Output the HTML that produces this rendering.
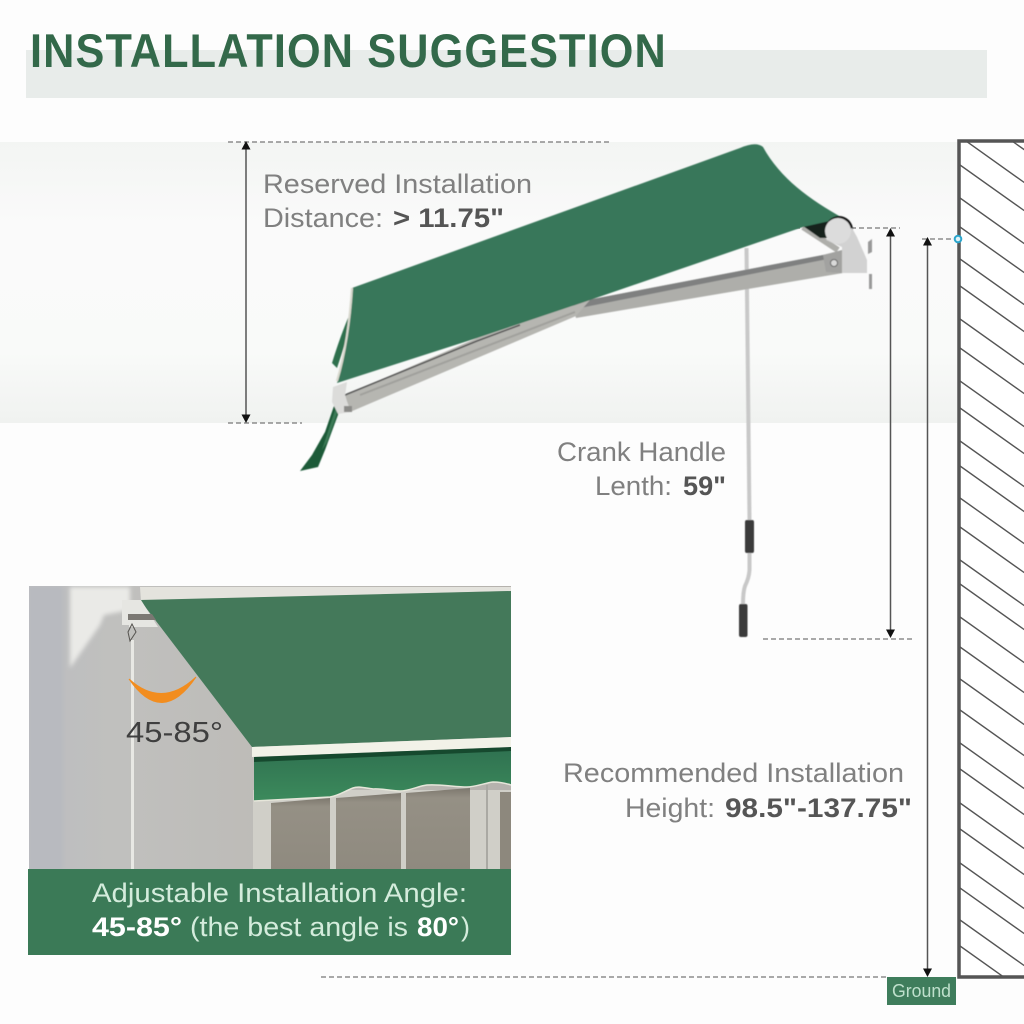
<!DOCTYPE html>
<html><head><meta charset="utf-8"><style>
html,body{margin:0;padding:0;background:#fff}
svg{display:block}
text{font-family:"Liberation Sans",sans-serif}
</style></head><body>
<svg width="1024" height="1024" viewBox="0 0 1024 1024" xmlns="http://www.w3.org/2000/svg">
<defs>
<linearGradient id="band" x1="0" y1="0" x2="0" y2="1">
<stop offset="0" stop-color="#f3f5f3"/><stop offset=".3" stop-color="#fafafa"/><stop offset=".75" stop-color="#f9faf9"/><stop offset="1" stop-color="#f0f2f0"/>
</linearGradient>
<linearGradient id="val" x1="0" y1="0" x2="0" y2="1">
<stop offset="0" stop-color="#2f7150"/><stop offset="1" stop-color="#3c8a5c"/>
</linearGradient>
<linearGradient id="conc" x1="0" y1="0" x2="1" y2="0">
<stop offset="0" stop-color="#bcbdc0"/><stop offset=".18" stop-color="#c0c0be"/><stop offset=".5" stop-color="#bdbbb7"/><stop offset="1" stop-color="#b5b2ad"/>
</linearGradient>
<linearGradient id="pane" x1="0" y1="0" x2="0" y2="1">
<stop offset="0" stop-color="#7d786e"/><stop offset=".12" stop-color="#959085"/><stop offset="1" stop-color="#8f8a7f"/>
</linearGradient>
<clipPath id="wallclip"><rect x="960" y="142" width="64" height="834"/></clipPath>
<clipPath id="photo"><rect x="29" y="586" width="482" height="284"/></clipPath>
<filter id="soft" x="-5%" y="-5%" width="110%" height="110%"><feGaussianBlur stdDeviation="0.6"/></filter>
<filter id="softer" x="-20%" y="-20%" width="140%" height="140%"><feGaussianBlur stdDeviation="2"/></filter>
</defs>
<rect width="1024" height="1024" fill="#fdfdfd"/>
<rect x="0" y="142" width="957" height="281" fill="url(#band)"/>

<!-- Title -->
<rect x="26" y="50" width="961" height="48" fill="#e8ecea"/>
<g transform="translate(30 67) scale(.92 1)">
<text x="0" y="0" font-size="47" font-weight="bold" fill="#33694a" textLength="691" lengthAdjust="spacing">INSTALLATION SUGGESTION</text>
</g>

<!-- Wall -->
<rect x="960" y="142" width="64" height="834" fill="#fff"/>
<g clip-path="url(#wallclip)" stroke="#555" stroke-width="1.400" fill="none">
<path d="M966 141l80 57M1012 141l40 28.400M960 165l90 63.900M960 198l90 63.900M960 227l90 63.900M960 259l90 63.900M960 286l90 63.900M960 319l90 63.900M960 348l90 63.900M960 381l90 63.900M960 408l90 63.900M960 441l90 63.900M960 466l90 63.900M960 498l90 63.900M960 527l90 63.900M960 560l90 63.900M960 584l90 63.900M960 617l90 63.900M960 647l90 63.900M960 679l90 63.900M960 710l90 63.900M960 743l90 63.900M960 769l90 63.900M960 803l90 63.900M960 829l90 63.900M960 863l90 63.900M960 888l90 63.900M960 920l90 63.900M960 946l90 63.900"/>
</g>
<path d="M1024 141H959V977H1024" fill="none" stroke="#555" stroke-width="3.500"/>

<!-- Dashed guides -->
<g stroke="#777" stroke-width="1.300" stroke-dasharray="5 3" fill="none">
<path d="M228 142H612M228 423H302M763 639H912M321 977H886M922 239H955M795 228H900"/>
</g>
<!-- Dimension arrows -->
<g stroke="#555" stroke-width="1.500" fill="none">
<path d="M246 148V417M890.500 234V632M927.500 243V971"/>
</g>
<g fill="#111">
<path d="M246 141l-4.500 8.500h9zM246 423l-4.500-8.500h9zM890.500 228l-4.500 8.500h9zM890.500 638l-4.500-8.500h9zM927.500 237l-4.500 8.500h9zM927.500 977l-4.500-8.500h9z"/>
</g>
<circle cx="958" cy="239" r="3.300" fill="#dff3f8" stroke="#2aa5cc" stroke-width="2"/>

<!-- Ground -->
<rect x="887" y="977" width="69" height="28" fill="#3f7d5c"/>
<text x="892" y="997" font-size="18" fill="#bfe0cc" textLength="59" lengthAdjust="spacingAndGlyphs">Ground</text>

<!-- Awning -->
<g filter="url(#soft)">
<path d="M348 318C341 335 336 350 332 363L337 368C343 350 348 335 350 318Z" fill="#2f6f4d"/>
<path d="M335 403L342 404L325 450L318 467L300 471L312 455L325 432Z" fill="#1e5a38"/>
<path d="M336 407L340 405L327 442L322 450Z" fill="#3a7a57"/>
<!-- rod -->
<path d="M746.500 248L749.500 520" stroke="#c8c8c8" stroke-width="4"/>
<!-- second arm -->
<path d="M572 303L823 255L843 251V273L576 318Z" fill="#aeaeaa"/>
<path d="M572 303L823 255L843 251V256L575 309Z" fill="#7f8080"/>
<!-- main arm -->
<path d="M345 395L477 338L590 300L576 316L350 412Z" fill="#b6b6b1"/>
<path d="M345 395L477 341L520 325" stroke="#555" stroke-width="1.500" fill="none"/>
<path d="M360 395L575 312" stroke="#a0a09c" stroke-width="2" fill="none"/>
<path d="M333 387L347 382L345 396L351 412L338 414L332 402Z" fill="#dcdcda"/>
<rect x="344" y="406" width="8" height="6" fill="#8b8b88"/>
<!-- diagonal support -->
<path d="M803 227L838 250" stroke="#aeaeaa" stroke-width="6"/>
<path d="M803 226L828 218L828 238L820 238Z" fill="#16241c"/>
<!-- canopy -->
<path d="M352 288L740 148Q756 141 763 147C780 178 810 200 843 218L825 222L803 227L590 300L477 338L337 383C345 355 350 320 352 288Z" fill="#39775a"/>
<path d="M352 288C350 320 345 355 337 381" stroke="#d9d9cf" stroke-width="2.200" fill="none"/>
<!-- roller and bracket -->
<circle cx="839" cy="230" r="14" fill="#111"/>
<path d="M852 228L857 237L867 260V273H842V247L826 240Z" fill="#d2d2d2"/>
<circle cx="838" cy="231" r="13" fill="#dcdcdc"/>
<path d="M823 255L842 250V273L826 272Z" fill="#a2a2a0"/>
<circle cx="834" cy="263" r="3.500" fill="#d9d9d9" stroke="#666"/>
<path d="M868 242L872 239V252L868 254ZM869 274L872 274V289H869Z" fill="#999"/>
<!-- crank handle -->
<path d="M749.500 553V570Q749 578 745 586Q743 592 743 604" stroke="#c8c8c8" stroke-width="4" fill="none"/>
<rect x="745" y="520" width="9" height="33" rx="2" fill="#3a3b3b"/>
<rect x="739" y="604" width="8.500" height="33" rx="2" fill="#3a3b3b"/>
</g>

<!-- Inset photo -->
<g clip-path="url(#photo)">
<rect x="29" y="586" width="482" height="284" fill="url(#conc)"/>
<path d="M70 587H130V610L104 615L100 625L70 668Z" fill="#eaeae7" filter="url(#softer)"/>
<rect x="29" y="586" width="34" height="284" fill="#b8babf" filter="url(#softer)"/>
<!-- window -->
<rect x="253" y="790" width="258" height="80" fill="#d0cfc8"/>
<path d="M271 803L330 798V870H271Z" fill="url(#pane)"/>
<path d="M336 798L401 793V870H336Z" fill="url(#pane)"/>
<path d="M406 793L470 788V870H406Z" fill="url(#pane)"/>
<rect x="500" y="792" width="11" height="78" fill="#8d887d"/>
<rect x="486" y="785" width="2" height="85" fill="#aaa9a3"/>
<!-- beam & canopy -->
<path d="M140 587H511V591L141 601Z" fill="#e4e3dd"/>
<path d="M140 600L511 591V737L252 747Z" fill="#44795a"/>
<path d="M252 747L511 737V747L252 757Z" fill="#f2f2e8"/>
<path d="M254 758L511 748V785C505 783 498 782 493 782C485 783 475 787 467 787C455 787 440 784 427 785C418 786 410 791 400 791C390 791 380 788 373 789C365 788 358 786 353 788C345 791 338 796 330 797L254 801Z" fill="url(#val)"/>
<path d="M254 757L511 747V751L254 762Z" fill="#16492e"/>
<path d="M254 801L330 797C338 796 345 791 353 788C358 786 365 788 373 789C380 788 390 791 400 791C410 791 418 786 427 785C440 784 455 787 467 787C475 787 485 783 493 782C498 782 505 783 511 785" fill="none" stroke="#e6e6da" stroke-width="1.500"/>
<!-- bracket and rod -->
<path d="M122 600H141L158 627H129V625H122Z" fill="#e6e6e2"/>
<path d="M128 614H152L156 620H128Z" fill="#7b7873"/>
<path d="M132 624L136 632L130 641L128 632Z" fill="none" stroke="#55534f" stroke-width="1"/>
<path d="M132.500 640V870" stroke="#e8e8e4" stroke-width="3"/>
<!-- orange arc -->
<path d="M129 679Q162 727 196 677Q162 709 129 679Z" fill="#f28d1f" stroke="#f28d1f" stroke-width="1"/>
</g>
<text x="126" y="742" font-size="29" fill="#3f3f3f" textLength="97" lengthAdjust="spacingAndGlyphs">45-85°</text>

<!-- Caption -->
<rect x="28" y="869" width="483" height="86" fill="#3b7a57"/>
<g font-size="27" fill="#d4ecdc">
<text x="92" y="902" textLength="375" lengthAdjust="spacingAndGlyphs">Adjustable Installation Angle:</text>
<text x="92" y="936" font-weight="bold" fill="#fff" textLength="90" lengthAdjust="spacingAndGlyphs">45-85°</text>
<text x="190" y="936" textLength="218" lengthAdjust="spacingAndGlyphs">(the best angle is</text>
<text x="417" y="936" font-weight="bold" fill="#fff" textLength="42" lengthAdjust="spacingAndGlyphs">80°</text>
<text x="461" y="936">)</text>
</g>

<!-- Labels -->
<g font-size="27" fill="#808080">
<text x="263" y="193" textLength="269" lengthAdjust="spacingAndGlyphs">Reserved Installation</text>
<text x="263" y="227" textLength="120" lengthAdjust="spacingAndGlyphs">Distance:</text>
<text x="393" y="227" font-weight="bold" fill="#555" textLength="111" lengthAdjust="spacingAndGlyphs">&gt; 11.75"</text>
<text x="557" y="461" textLength="169" lengthAdjust="spacingAndGlyphs">Crank Handle</text>
<text x="595" y="495" textLength="77" lengthAdjust="spacingAndGlyphs">Lenth:</text>
<text x="683" y="495" font-weight="bold" fill="#555" textLength="43" lengthAdjust="spacingAndGlyphs">59"</text>
<text x="563" y="782" textLength="341" lengthAdjust="spacingAndGlyphs">Recommended Installation</text>
<text x="625" y="817" textLength="90" lengthAdjust="spacingAndGlyphs">Height:</text>
<text x="725" y="817" font-weight="bold" fill="#555" textLength="187" lengthAdjust="spacingAndGlyphs">98.5"-137.75"</text>
</g>
</svg>
</body></html>
